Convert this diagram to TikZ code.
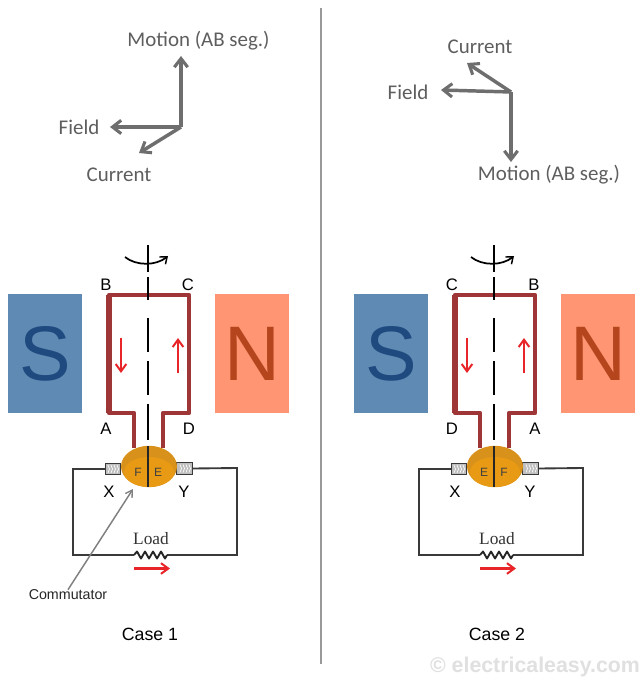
\documentclass[tikz,border=0pt]{standalone}
\usepackage{fontspec}
\setmainfont{Liberation Sans}
\newfontfamily\calib{Carlito}
\newfontfamily\timesf{Liberation Serif}
\usetikzlibrary{arrows.meta,shapes.geometric}
\definecolor{coil}{HTML}{9E3536}
\definecolor{sblue}{HTML}{5F8AB3}
\definecolor{norange}{HTML}{FF9573}
\definecolor{commo}{HTML}{D8911A}
\definecolor{commi}{HTML}{E89A14}
\definecolor{vecgray}{HTML}{6E6E6E}
\definecolor{wiregray}{HTML}{3A3A3A}
\definecolor{redarrow}{HTML}{E8262A}
\tikzset{
  x=0.75pt,y=-0.75pt,
  vec/.style={draw=vecgray,line width=2.6pt,-{Straight Barb[length=6.5pt,width=10pt,line width=2.3pt]}},
  veclabel/.style={font=\calib\fontsize{15.7}{18}\selectfont,text=vecgray!85!black,inner sep=0pt},
  polebox/.style={minimum width=55.5pt,minimum height=89pt,inner sep=0pt},
  polelabel/.style={font=\fontsize{58}{64}\selectfont},
  coilline/.style={draw=coil,line width=3.6pt,line join=round},
  coilthick/.style={draw=coil,line width=4.4pt},
  redcur/.style={draw=redarrow,line width=1.7pt,-{Straight Barb[length=5.5pt,width=8pt,line width=1.5pt]}},
  axisline/.style={draw=black,line width=1.1pt},
  wire/.style={draw=wiregray,line width=1.4pt},
  brush/.style={draw=wiregray,line width=0.9pt,fill=black!25,minimum width=11.5pt,minimum height=8.8pt,inner sep=0pt},
  letter/.style={font=\fontsize{12.5}{14}\selectfont,inner sep=0pt},
  seg/.style={font=\fontsize{9}{10}\selectfont,text=black!75,inner sep=0pt},
  caselabel/.style={font=\fontsize{13.3}{15}\selectfont,inner sep=0pt},
}
% #1 shift, #2-#5 corner letters, #6 left seg, #7 right seg, #8 name prefix
\newcommand{\machinedraw}[8]{
\begin{scope}[xshift=#1*0.75pt]
  \node[polebox,fill=sblue] (#8S) at (45,353.5) {};
  \node[polelabel] at (45,353.5) {\textcolor[HTML]{1F4A80}{S}};
  \node[polebox,fill=norange] (#8N) at (252,353.5) {};
  \node[polelabel] at (252,353.5) {\textcolor[HTML]{B5451C}{N}};
  % coil
  \coordinate (#8c1) at (134,448);
  \coordinate (#8c2) at (134,413);
  \coordinate (#8c3) at (109,413);
  \coordinate (#8c4) at (109,295);
  \coordinate (#8c5) at (189,295);
  \coordinate (#8c6) at (189,413);
  \coordinate (#8c7) at (163,413);
  \coordinate (#8c8) at (163,448);
  \draw[coilline] (#8c1) -- (#8c2) -- (#8c3) -- (#8c4) -- (#8c5) -- (#8c6) -- (#8c7) -- (#8c8);
  \draw[coilthick] (#8c3) -- (#8c4);
  % axis
  \coordinate (#8a1) at (148,245);
  \coordinate (#8a2) at (148,272);
  \coordinate (#8a3) at (148,277);
  \coordinate (#8a4) at (148,300);
  \coordinate (#8a5) at (148,318);
  \coordinate (#8a6) at (148,352);
  \coordinate (#8a7) at (148,361);
  \coordinate (#8a8) at (148,395);
  \coordinate (#8a9) at (148,404);
  \coordinate (#8a10) at (148,440);
  \draw[axisline] (#8a1) -- (#8a2) (#8a3) -- (#8a4) (#8a5) -- (#8a6) (#8a7) -- (#8a8) (#8a9) -- (#8a10);
  \coordinate (#8r1) at (125,257);
  \coordinate (#8r2) at (168,256);
  \draw[line width=1.3pt,-{Straight Barb[length=4.5pt,width=7pt,line width=1.1pt]}] (#8r1) .. controls (136,266) and (156,266) .. (#8r2);
  % current arrows
  \coordinate (#8d1) at (121,338);
  \coordinate (#8d2) at (121,373);
  \coordinate (#8u1) at (178,373);
  \coordinate (#8u2) at (178,338);
  \draw[redcur] (#8d1) -- (#8d2);
  \draw[redcur] (#8u1) -- (#8u2);
  % labels
  \node[letter] at (106,285) {#2};
  \node[letter] at (188,285) {#3};
  \node[letter] at (106,429) {#4};
  \node[letter] at (189,429) {#5};
  % wires
  \coordinate (#8w1) at (73,469);
  \coordinate (#8w2) at (73,555);
  \coordinate (#8w3) at (237,555);
  \coordinate (#8w4) at (237,468);
  \coordinate (#8rl) at (134,555);
  \coordinate (#8rr) at (167,555);
  \node[brush] (#8X) at (113,469) {};
  \node[brush] (#8Y) at (184.5,468.5) {};
  \draw[wire] (#8X.west) -- (#8w1) -- (#8w2) -- (#8rl);
  \draw[wire] (#8Y.east) -- (#8w4) -- (#8w3) -- (#8rr);
  \draw[line width=1.4pt,black!85,line join=round] (#8rl) -- ++(3,-3.5) -- ++(4,7) -- ++(4,-7) -- ++(4,7) -- ++(4,-7) -- ++(4,7) -- ++(4,-7) -- ++(4,7) -- (#8rr);
  \foreach \xx in {108,111,114,117} \draw[white,line width=.5pt] (\xx,465) -- ++(1.5,4) -- ++(-1.5,4);
  \foreach \xx in {180,183,186,189} \draw[white,line width=.5pt] (\xx,464.5) -- ++(1.5,4) -- ++(-1.5,4);
  % commutator
  \node[fill=commo,ellipse,minimum width=42pt,minimum height=31pt,inner sep=0pt] (#8com) at (149,466.5) {};
  \fill[commi] (149,472) ellipse [x radius=25,y radius=15];
  \draw[line width=1.3pt,black!85] (148,446) -- (148,487);
  \node[seg] at (138,472) {#6};
  \node[seg] at (158,472) {#7};
  \node[letter] at (109,492) {X};
  \node[letter] at (184,492) {Y};
  \node[font=\timesf\fontsize{13}{15}\selectfont,text=black!80,inner sep=0pt] at (151,538.5) {Load};
  \coordinate (#8l1) at (134,568.5);
  \coordinate (#8l2) at (170,568.5);
  \draw[redcur] (#8l1) -- (#8l2);
\end{scope}}
\begin{document}
\begin{tikzpicture}
\useasboundingbox (0,0) rectangle (641,680);
\fill[white] (0,0) rectangle (641,680);
% divider
\coordinate (dt) at (321,8);
\coordinate (db) at (321,664);
\draw[black!40,line width=1pt] (dt) -- (db);
% vectors case 1
\coordinate (o1) at (181,127);
\node[veclabel] (m1) at (198.5,41) {Motion (AB seg.)};
\node[veclabel] (f1) at (79,127) {Field};
\node[veclabel] (c1) at (119,175) {Current};
\coordinate (m1e) at (181,56);
\coordinate (f1e) at (110,127);
\coordinate (c1e) at (139,153);
\draw[vec] (o1) -- (m1e);
\draw[vec] (o1) -- (f1e);
\draw[vec] (o1) -- (c1e);
% vectors case 2
\coordinate (o2) at (511,92);
\node[veclabel] (c2) at (480,47) {Current};
\node[veclabel] (f2) at (408,92) {Field};
\node[veclabel] (m2) at (549,175) {Motion (AB seg.)};
\coordinate (c2e) at (467,63);
\coordinate (f2e) at (441,90);
\coordinate (m2e) at (511,162);
\draw[vec] (o2) -- (c2e);
\draw[vec] (o2) -- (f2e);
\draw[vec] (o2) -- (m2e);
% machines
\machinedraw{0}{B}{C}{A}{D}{F}{E}{p}
\machinedraw{346}{C}{B}{D}{A}{E}{F}{q}
% commutator label
\node[font=\fontsize{10.7}{12}\selectfont,text=black!85,inner sep=0pt] (clab) at (68,595) {Commutator};
\coordinate (ctip) at (133,489);
\draw[draw=black!50,line width=1.1pt,-{Straight Barb[length=5pt,width=6pt,line width=1pt]}] (clab.north) -- (ctip);
% captions
\node[caselabel] (case1) at (150,634.5) {Case 1};
\node[caselabel] (case2) at (497,634.5) {Case 2};
\node[font=\bfseries\fontsize{16}{18}\selectfont,text=black!12,inner sep=0pt] (wm) at (535,667) {© electricaleasy.com};
\end{tikzpicture}
\end{document}
